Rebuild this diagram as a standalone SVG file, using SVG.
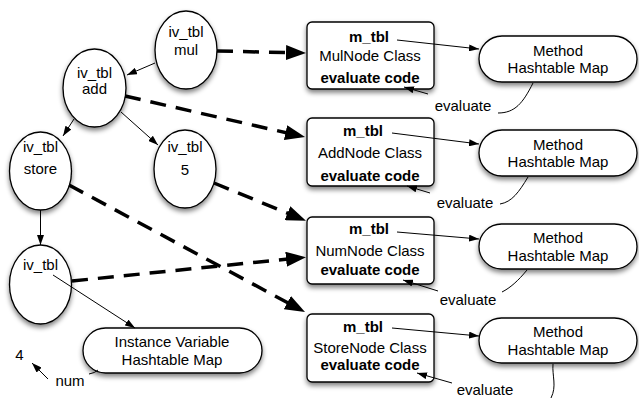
<svg xmlns="http://www.w3.org/2000/svg" width="639" height="398" viewBox="0 0 639 398">
  <defs>
    <style>
      .shape { fill: #ffffff; stroke: #000000; stroke-width: 1.3; }
      .t { font-family: "Liberation Sans", Arial, sans-serif; font-size: 15px; fill: #000000; text-anchor: middle; }
      .b { font-weight: bold; }
      .thin { fill: none; stroke: #000000; stroke-width: 1; }
      .thinArrow { fill: none; stroke: #000000; stroke-width: 1; marker-end: url(#smallHead); }
      .dashArrow { fill: none; stroke: #000000; stroke-width: 3.5; stroke-dasharray: 16 10; marker-end: url(#bigHead); }
    </style>
    <filter id="shadow" x="-20%" y="-20%" width="140%" height="150%">
      <feGaussianBlur in="SourceAlpha" stdDeviation="2.5"/>
      <feOffset dx="0" dy="3" result="blur"/>
      <feComponentTransfer>
        <feFuncA type="linear" slope="0.5"/>
      </feComponentTransfer>
      <feMerge>
        <feMergeNode/>
        <feMergeNode in="SourceGraphic"/>
      </feMerge>
    </filter>
    <marker id="bigHead" markerUnits="userSpaceOnUse" viewBox="0 0 20 15" markerWidth="20" markerHeight="15" refX="14" refY="7.5" orient="auto">
      <path d="M0,0 L20,7.5 L0,15 z" fill="#000000"/>
    </marker>
    <marker id="smallHead" markerUnits="userSpaceOnUse" viewBox="0 0 10 7" markerWidth="10" markerHeight="7" refX="10" refY="3.5" orient="auto">
      <path d="M0,0 L10,3.5 L0,7 z" fill="#000000"/>
    </marker>
  </defs>

  <rect width="639" height="398" fill="#ffffff"/>

  <!-- object nodes (instance variable tables) -->
  <g id="obj-mul">
    <ellipse class="shape" filter="url(#shadow)" cx="186" cy="50" rx="31" ry="39"/>
    <text class="t" x="186" y="37">iv_tbl</text>
    <text class="t" x="186" y="54.5">mul</text>
  </g>
  <g id="obj-add">
    <ellipse class="shape" filter="url(#shadow)" cx="94.5" cy="88" rx="31.5" ry="39"/>
    <text class="t" x="94.5" y="78">iv_tbl</text>
    <text class="t" x="94.5" y="93.5">add</text>
  </g>
  <g id="obj-store">
    <ellipse class="shape" filter="url(#shadow)" cx="40.5" cy="171" rx="31" ry="39"/>
    <text class="t" x="40.5" y="152">iv_tbl</text>
    <text class="t" x="40.5" y="174">store</text>
  </g>
  <g id="obj-five">
    <ellipse class="shape" filter="url(#shadow)" cx="185" cy="169" rx="31" ry="39"/>
    <text class="t" x="185" y="152">iv_tbl</text>
    <text class="t" x="185" y="174.5">5</text>
  </g>
  <g id="obj-num">
    <ellipse class="shape" filter="url(#shadow)" cx="40.5" cy="284.5" rx="31" ry="39.5"/>
    <text class="t" x="40.5" y="270">iv_tbl</text>
  </g>

  <!-- instance variable map and literal value -->
  <g id="iv-map">
    <rect class="shape" filter="url(#shadow)" x="83" y="328" width="179" height="45" rx="22.5" ry="22.5"/>
    <text class="t" x="172" y="346.5">Instance Variable</text>
    <text class="t" x="172" y="364.5">Hashtable Map</text>
  </g>
  <g id="value-4">
    <text class="t" x="19.5" y="359.5">4</text>
  </g>

  <!-- class boxes -->
  <g id="class-mul">
    <rect class="shape" filter="url(#shadow)" x="307" y="22" width="127" height="67" rx="5" ry="5"/>
    <text class="t b" x="369" y="42">m_tbl</text>
    <text class="t" x="370" y="61">MulNode Class</text>
    <text class="t b" x="370" y="83">evaluate code</text>
  </g>
  <g id="class-add">
    <rect class="shape" filter="url(#shadow)" x="307" y="118" width="127" height="68" rx="5" ry="5"/>
    <text class="t b" x="363" y="135.5">m_tbl</text>
    <text class="t" x="370" y="157.5">AddNode Class</text>
    <text class="t b" x="370" y="180.5">evaluate code</text>
  </g>
  <g id="class-num">
    <rect class="shape" filter="url(#shadow)" x="307" y="217" width="127" height="67" rx="5" ry="5"/>
    <text class="t b" x="369" y="233.5">m_tbl</text>
    <text class="t" x="370" y="255.5">NumNode Class</text>
    <text class="t b" x="370" y="274.5">evaluate code</text>
  </g>
  <g id="class-store">
    <rect class="shape" filter="url(#shadow)" x="307" y="314" width="127" height="68" rx="5" ry="5"/>
    <text class="t b" x="363" y="331.5">m_tbl</text>
    <text class="t" x="370" y="353">StoreNode Class</text>
    <text class="t b" x="370" y="369.5">evaluate code</text>
  </g>

  <!-- method tables -->
  <g id="methods-mul">
    <rect class="shape" filter="url(#shadow)" x="479" y="36" width="158" height="46" rx="23" ry="23"/>
    <text class="t" x="558" y="55.5">Method</text>
    <text class="t" x="558" y="72.5">Hashtable Map</text>
  </g>
  <g id="methods-add">
    <rect class="shape" filter="url(#shadow)" x="479" y="130" width="158" height="46" rx="23" ry="23"/>
    <text class="t" x="558" y="149.5">Method</text>
    <text class="t" x="558" y="166.5">Hashtable Map</text>
  </g>
  <g id="methods-num">
    <rect class="shape" filter="url(#shadow)" x="479" y="224" width="158" height="45" rx="22.5" ry="22.5"/>
    <text class="t" x="558" y="242.5">Method</text>
    <text class="t" x="558" y="260.5">Hashtable Map</text>
  </g>
  <g id="methods-store">
    <rect class="shape" filter="url(#shadow)" x="479" y="318" width="158" height="45" rx="22.5" ry="22.5"/>
    <text class="t" x="558" y="336.5">Method</text>
    <text class="t" x="558" y="354.5">Hashtable Map</text>
  </g>

  <!-- connectors -->
  <g id="connectors">
    <!-- tree links between objects -->
    <path class="thinArrow" d="M155,63 L127,75"/>
    <path class="thinArrow" d="M74,119 L63,136"/>
    <path class="thinArrow" d="M121,112 L158,145"/>
    <path class="thinArrow" d="M40.5,210 L40.5,245"/>
    <path class="thinArrow" d="M53,275 L135,328"/>

    <!-- object to class links -->
    <path class="dashArrow" d="M217,51 L300,52.9"/>
    <path class="dashArrow" d="M125,96 L299.2,135.7"/>
    <path class="dashArrow" d="M214,183 L300.4,218.5"/>
    <path class="dashArrow" d="M69,185 L299.7,309.2"/>
    <path class="dashArrow" d="M72,281 L300,257.8"/>

    <!-- m_tbl to method tables -->
    <path class="thinArrow" d="M397,40 L479,49"/>
    <path class="thinArrow" d="M392,133 L479,144"/>
    <path class="thinArrow" d="M397,232 L479,239"/>
    <path class="thinArrow" d="M392,328 L479,336"/>

    <!-- evaluate lookups -->
    <path class="thin" d="M533,83 C523,103 515,113 498,113"/>
    <path class="thinArrow" d="M428,94 L404,87"/>
    <text class="t" x="463" y="111">evaluate</text>

    <path class="thin" d="M528,177 C519,192 512,202 500,204"/>
    <path class="thinArrow" d="M430,193 L407,186"/>
    <text class="t" x="465" y="208">evaluate</text>

    <path class="thin" d="M527,270 C518,281 510,288 502,292"/>
    <path class="thinArrow" d="M438,291 L403,280"/>
    <text class="t" x="468" y="305">evaluate</text>

    <path class="thin" d="M553,364 C552,376 557,386 551,398"/>
    <path class="thinArrow" d="M452,383 L417,373"/>
    <text class="t" x="485" y="395">evaluate</text>

    <!-- num lookup -->
    <path class="thin" d="M98,370 Q95,373 89,374"/>
    <path class="thinArrow" d="M48,379 L32,363"/>
    <text class="t" x="70" y="386">num</text>
  </g>
</svg>
